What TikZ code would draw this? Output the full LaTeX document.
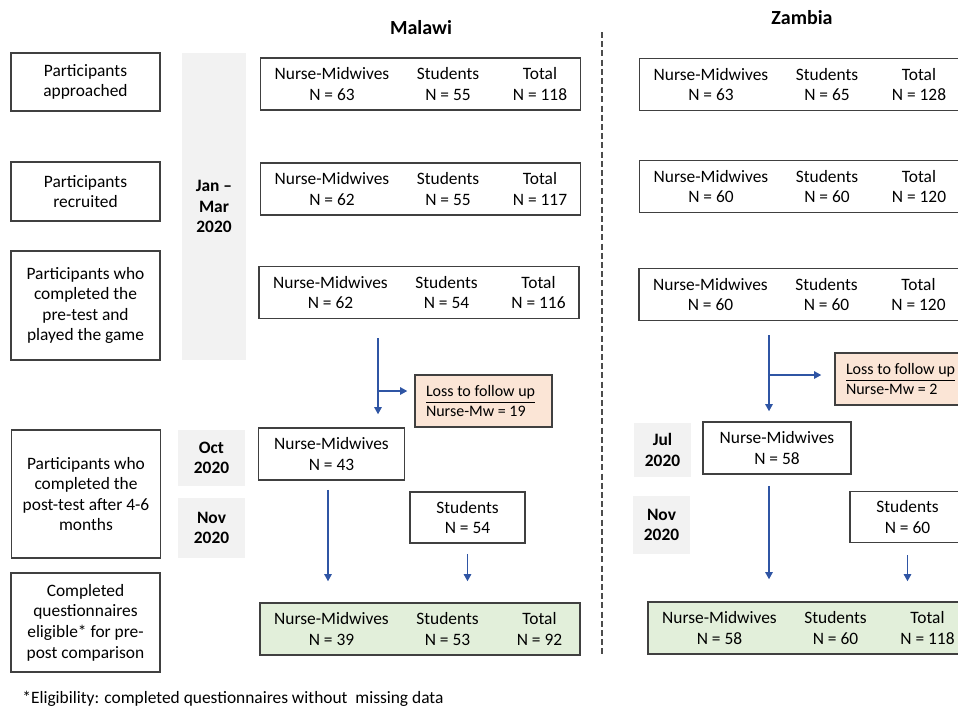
\documentclass[tikz,border=0pt]{standalone}
\usepackage{fontspec}
\setmainfont{Carlito}
\usepackage{tikz}
\usetikzlibrary{positioning,arrows.meta}

\definecolor{lossfill}{HTML}{FBE5D6}
\definecolor{finalfill}{HTML}{E2EFDA}
\definecolor{bandfill}{HTML}{F2F2F2}
\definecolor{flowblue}{HTML}{2F55A4}

% one box with three counts (Nurse-Midwives, Students, Total)
\newcommand{\tallyrow}[7]{%
  \node[rowbox, #4] (#1) at (#2,#3) {};
  \node[cell] (#1-nm) at ([xshift=-44.25pt]#1.center) {Nurse-Midwives\\N = #5};
  \node[cell] (#1-st) at ([xshift=13.75pt]#1.center) {Students\\N = #6};
  \node[cell] (#1-tot) at ([xshift=59.75pt]#1.center) {Total\\N = #7};
}

\begin{document}
\begin{tikzpicture}[x=0.5pt, y=-0.5pt,
    every node/.style={font=\fontsize{8.7}{10.3}\selectfont},
    box/.style={draw=black!75, line width=0.75pt, inner sep=0pt, align=center},
    stagebox/.style={box, minimum width=74.5pt},
    rowbox/.style={box, minimum width=160pt, minimum height=26pt},
    cell/.style={align=center, inner sep=0pt},
    band/.style={fill=bandfill, inner sep=0pt, align=center, font=\fontsize{8.7}{10.3}\selectfont\bfseries},
    lossbox/.style={box, fill=lossfill, minimum width=68.5pt, minimum height=26pt, align=flush left, text width=68.5pt, inner xsep=0pt, font=\fontsize{8}{9.6}\selectfont},
    groupbox/.style={box, minimum height=26pt},
    finalrow/.style={fill=finalfill},
    title/.style={font=\fontsize{10}{12}\selectfont\bfseries},
    flow/.style={draw=flowblue, line width=0.6pt, -{Triangle[length=3.6pt,width=3.8pt]}}]

    \useasboundingbox (0,0) rectangle (958,707);
    \clip (0,0) rectangle (958,707);

    % Country titles and divider
    \node[title] (malawi) at (421,28) {Malawi};
    \node[title] (zambia) at (802,18) {Zambia};
    \coordinate (sep top) at (602,32);
    \coordinate (sep bot) at (602,657);
    \draw[black!70, line width=0.55pt, dash pattern=on 3pt off 1.6pt] (sep top) -- (sep bot);

    % Stage labels
    \node[stagebox, minimum height=29pt] (approached) at (85.5,82) {Participants\\approached};
    \node[stagebox, minimum height=29.5pt] (recruited) at (85.5,191.5) {Participants\\recruited};
    \node[stagebox, minimum height=54.5pt] (pretest) at (85.5,305.5) {Participants who\\completed the\\pre-test and\\played the game};
    \node[stagebox, minimum height=64pt] (posttest) at (86,494) {Participants who\\completed the\\post-test after 4-6\\months};
    \node[stagebox, minimum height=49.5pt] (eligible) at (85.5,622.5) {Completed\\questionnaires\\eligible* for pre-\\post comparison};

    % Time bands
    \node[band, minimum width=32pt, minimum height=153.5pt] (janmar) at (214,206.5) {Jan --\\Mar\\2020};
    \node[band, minimum width=33.5pt, minimum height=28pt] (oct) at (211.5,458) {Oct\\2020};
    \node[band, minimum width=33.5pt, minimum height=30pt] (nov m) at (211.5,528) {Nov\\2020};
    \node[band, minimum width=28.5pt, minimum height=27pt] (jul) at (662.5,450) {Jul\\2020};
    \node[band, minimum width=28.5pt, minimum height=29pt] (nov z) at (661.5,525) {Nov\\2020};

    % Malawi
    \tallyrow{mrow1}{420.5}{84}{}{63}{55}{118}
    \tallyrow{mrow2}{420.5}{189}{}{62}{55}{117}
    \tallyrow{mrow3}{419}{292.5}{}{62}{54}{116}
    \node[lossbox] (mloss) at (483.5,401) {\hspace*{5.5pt}\underline{Loss to follow up}\\\hspace*{5.5pt}Nurse-Mw = 19};
    \node[groupbox, minimum width=73pt] (mnm) at (331.5,454) {Nurse-Midwives\\N = 43};
    \node[groupbox, minimum width=57.5pt, minimum height=25.5pt] (mst) at (467.5,517.5) {Students\\N = 54};
    \tallyrow{mfin}{420}{629}{finalrow}{39}{53}{92}

    \coordinate (mfork) at (378,391);
    \draw[flow, shorten <=9.5pt, shorten >=6.5pt] (mrow3.south -| mfork) -- (mnm.north -| mfork);
    \draw[flow, shorten >=3.5pt] (mfork) -- (mloss.west |- mfork);
    \draw[flow, shorten <=4.5pt, shorten >=10.5pt] ([xshift=-1.75pt]mnm.south) -- ([xshift=-1.75pt]mnm.south |- mfin.north);
    \draw[flow, shorten <=5pt, shorten >=10.5pt] (mst.south) -- (mst.south |- mfin.north);

    % Zambia
    \tallyrow{zrow1}{799.5}{84.5}{}{63}{65}{128}
    \tallyrow{zrow2}{799.5}{186.5}{}{60}{60}{120}
    \tallyrow{zrow3}{799}{294.5}{}{60}{60}{120}
    \node[lossbox] (zloss) at (903.5,379) {\hspace*{5.5pt}\underline{Loss to follow up}\\\hspace*{5.5pt}Nurse-Mw = 2};
    \node[groupbox, minimum width=74pt] (znm) at (777,448) {Nurse-Midwives\\N = 58};
    \node[groupbox, minimum width=57.5pt, minimum height=25.5pt] (zst) at (907.5,517) {Students\\N = 60};
    \tallyrow{zfin}{808}{628}{finalrow}{58}{60}{118}

    \coordinate (zfork) at (769,375);
    \draw[flow, shorten <=7pt, shorten >=5pt] (zrow3.south -| zfork) -- (znm.north -| zfork);
    \draw[flow, shorten >=6.5pt] (zfork) -- (zloss.west |- zfork);
    \draw[flow, shorten <=5.5pt, shorten >=11pt] ([xshift=-4pt]znm.south) -- ([xshift=-4pt]znm.south |- zfin.north);
    \draw[flow, shorten <=6pt, shorten >=10pt] (zst.south) -- (zst.south |- zfin.north);

    % Footnote
    \node[anchor=base west, inner sep=0pt] (note) at (22,703) {*Eligibility: completed questionnaires without\ \ missing data};
\end{tikzpicture}
\end{document}
